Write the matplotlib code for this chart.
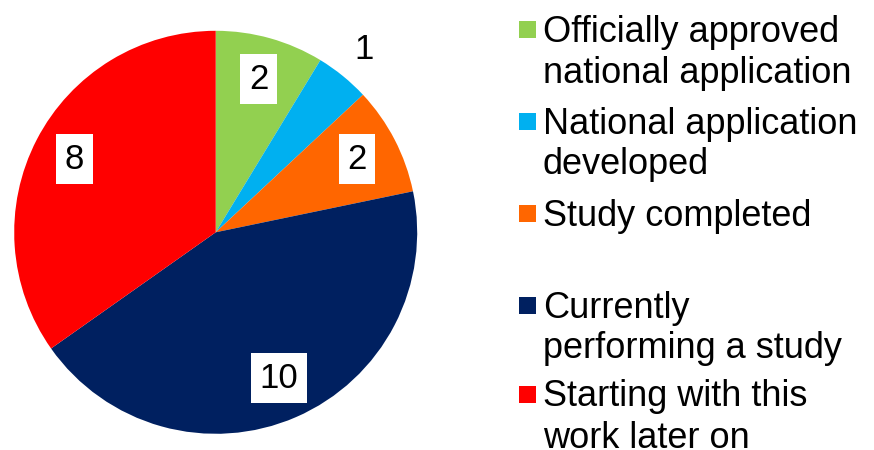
import matplotlib
matplotlib.use("Agg")
import matplotlib.pyplot as plt
import numpy as np
from matplotlib.patches import Rectangle

categories = [
    "Officially approved\nnational application",
    "National application\ndeveloped",
    "Study completed",
    "Currently\nperforming a study",
    "Starting with this\nwork later on",
]
counts = [2, 1, 2, 10, 8]
colors = ["#92D050", "#00B0F0", "#FF6600", "#002060", "#FF0000"]

plt.rcParams["font.family"] = ["Liberation Sans", "DejaVu Sans"]

W, H = 874, 450
fig = plt.figure(figsize=(W / 100, H / 100), dpi=100)

# pie axes, square box in pixels
cx, cy, R = 215.7, 232.3, 201.5
ax = fig.add_axes([(cx - R) / W, (H - cy - R) / H, 2 * R / W, 2 * R / H])
wedges, texts = ax.pie(counts, labels=[str(c) for c in counts], colors=colors,
                       startangle=90, counterclock=False, labeldistance=0.79,
                       wedgeprops=dict(linewidth=0),
                       textprops=dict(fontsize=25, color="black"))
ax.set_xlim(-1, 1)
ax.set_ylim(-1, 1)
ax.set_aspect("auto")

for w, t, c in zip(wedges, texts, counts):
    t.set_ha("center")
    t.set_va("center")
    if c == 1:
        # small slice: label sits outside, no box
        mid = np.deg2rad((w.theta1 + w.theta2) / 2)
        t.set_position((1.17 * np.cos(mid), 1.17 * np.sin(mid)))
    else:
        t.set_bbox(dict(boxstyle="square,pad=0.25", fc="white", ec="none"))

# legend drawn in pixel coordinates, marker on first line of each entry
lax = fig.add_axes([0, 0, 1, 1])
lax.set_xlim(0, W)
lax.set_ylim(H, 0)
lax.axis("off")
lax.patch.set_alpha(0)

row_y = [29.5, 121, 213, 305, 394]
line_step = 41
sq = 17
for y, lab, col in zip(row_y, categories, colors):
    lax.add_patch(Rectangle((518.5, y - sq / 2), sq, sq, color=col, lw=0))
    for k, line in enumerate(lab.split("\n")):
        lax.text(543, y + 12.5 + k * line_step, line, fontsize=26,
                 va="baseline", ha="left", color="black")

plt.savefig("out.png", dpi=100)
